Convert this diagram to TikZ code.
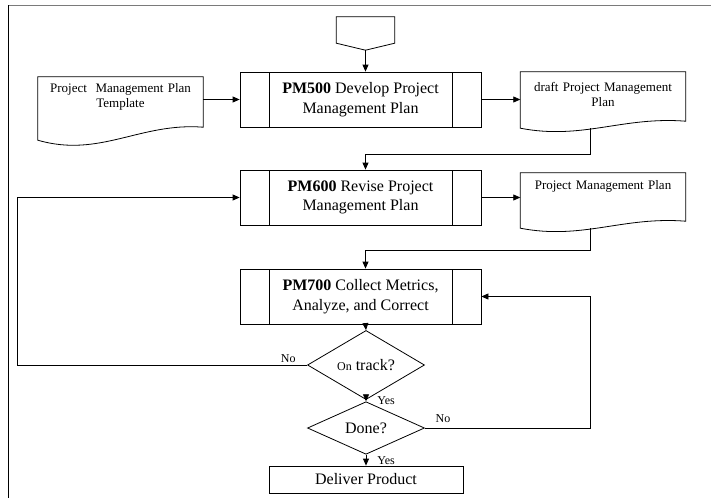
\documentclass[tikz,border=0pt]{standalone}
\usepackage{fontspec}
\setmainfont{Liberation Serif}
\definecolor{FlowBlack}{HTML}{000000}
\definecolor{FlowWhite}{HTML}{ffffff}
\definecolor{FrameGray}{HTML}{7a7a7a}
\usetikzlibrary{shapes.geometric,arrows.meta,positioning,calc}
\tikzset{
    % Boxes with a bar at each side
    subprocess/.style={
        rectangle,
        draw=FlowBlack,
        line width=0.8pt,
        fill=FlowWhite,
        text=FlowBlack,
        minimum width=241pt,
        minimum height=55pt,
        inner sep=0pt,
        align=center,
        font=\fontsize{16}{19.5}\selectfont,
        path picture={
            \draw[line width=0.8pt]
                ([xshift=29pt]path picture bounding box.north west) --
                ([xshift=29pt]path picture bounding box.south west);
            \draw[line width=0.8pt]
                ([xshift=-29pt]path picture bounding box.north east) --
                ([xshift=-29pt]path picture bounding box.south east);
        }
    },
    process/.style={
        rectangle,
        draw=FlowBlack,
        line width=0.8pt,
        fill=FlowWhite,
        text=FlowBlack,
        minimum width=194pt,
        minimum height=27pt,
        align=center,
        font=\fontsize{16}{19}\selectfont
    },
    % Paper sheets, outline drawn later
    docbox/.style={
        rectangle,
        draw=none,
        text=FlowBlack,
        minimum width=165pt,
        text width=157pt,
        inner xsep=4pt,
        inner ysep=0pt,
        align=center,
        font=\fontsize{13}{15.5}\selectfont
    },
    offpage/.style={
        rectangle,
        draw=none,
        minimum width=58pt,
        minimum height=33pt
    },
    decision/.style={
        diamond,
        draw=FlowBlack,
        line width=0.8pt,
        fill=FlowWhite,
        text=FlowBlack,
        minimum width=117pt,
        minimum height=43pt,
        inner sep=0pt,
        font=\fontsize{16}{19}\selectfont
    },
    flowline/.style={
        line width=0.8pt,
        color=FlowBlack
    },
    arrow/.style={
        flowline,
        -{Triangle[length=7pt,width=6pt]}
    },
    answer/.style={
        inner sep=1pt,
        text=FlowBlack,
        font=\fontsize{12}{14}\selectfont
    }
}

\begin{document}
\begin{tikzpicture}[x=1pt, y=-1pt]
        \useasboundingbox (0,0) rectangle (711,498);

        % Frame
        \draw[FrameGray, line width=1pt] (8,5) -- (711,5);
        \draw[flowline, line width=1pt] (8,5) -- (8,498);

        % Vertical flow
        \node[offpage] (start) at (365.5,33.5) {};
        \node[subprocess] (pm500) at (360.5,99.5)
              {\textbf{PM500} Develop Project\\Management Plan};
        \node[subprocess] (pm600) at (360.5,197.5)
              {\textbf{PM600} Revise Project\\Management Plan};
        \node[subprocess] (pm700) at (360.5,296.5)
              {\textbf{PM700} Collect Metrics,\\Analyze, and Correct};
        \node[decision] (ontrack) at (366,365)
              {{\fontsize{12}{14}\selectfont On} track?};
        \node[decision] (done) at (366,428) {Done?};
        \node[process] (deliver) at (366,479.5) {Deliver Product};

        % Documents on the sides
        \node[docbox, text height=15pt, text depth=48pt] (tmpl) at (120.5,108.5)
              {Project~ Management Plan\\Template};
        \node[docbox, text height=19pt, text depth=37pt] (draft) at (603,100)
              {draft Project Management\\Plan};
        \node[docbox, text height=16pt, text depth=39pt] (pmplan) at (603,200.5)
              {Project Management Plan};

        % Outlines
        \draw[flowline] (start.north west) -- (start.north east)
              -- ([yshift=7pt]start.south east) -- (start.south)
              -- ([yshift=7pt]start.south west) -- cycle;
        \foreach \d/\r/\b in {tmpl/13/18, draft/7/12, pmplan/7/12}
            \draw[flowline] (\d.north west) -- (\d.north east)
                  -- ([yshift=\r pt]\d.south east)
                  .. controls ([xshift=-63pt,yshift=\b pt]\d.south east)
                  and ([xshift=62pt,yshift=-\b pt]\d.south west)
                  .. (\d.south west) -- cycle;

        \coordinate (leftrail) at (17,365);
        \coordinate (rightrail) at (590,428);

        % Arrows
        \draw[arrow] (start.south) -- (start.south |- pm500.north);
        \draw[arrow] (tmpl.east |- pm500.west) -- (pm500.west);
        \draw[arrow] (pm500.east) -- (pm500.east -| draft.west);
        \draw[arrow] ([xshift=-13pt]draft.south) -- ++(0,26)
              -| ([xshift=5pt]pm600.north);
        \draw[arrow] (pm600.east) -- (pm600.east -| pmplan.west);
        \draw[arrow] ([xshift=-13pt]pmplan.south) -- ++(0,22)
              -| ([xshift=5pt]pm700.north);
        \draw[arrow] ([xshift=5pt]pm700.south) -- (ontrack.north);
        \draw[arrow] (ontrack.south) -- node[answer, right=10pt] {Yes} (done.north);
        \draw[arrow] (done.south) -- node[answer, right=10pt] {Yes} (deliver.north);

        % Feedback loops
        \draw[arrow] (ontrack.west) -- node[answer, pos=0.065, above=1pt] {No}
              (leftrail) |- (pm600.west);
        \draw[arrow] (done.east) -- node[answer, pos=0.11, above=4pt] {No}
              (rightrail) |- (pm700.east);
    \end{tikzpicture}
\end{document}
